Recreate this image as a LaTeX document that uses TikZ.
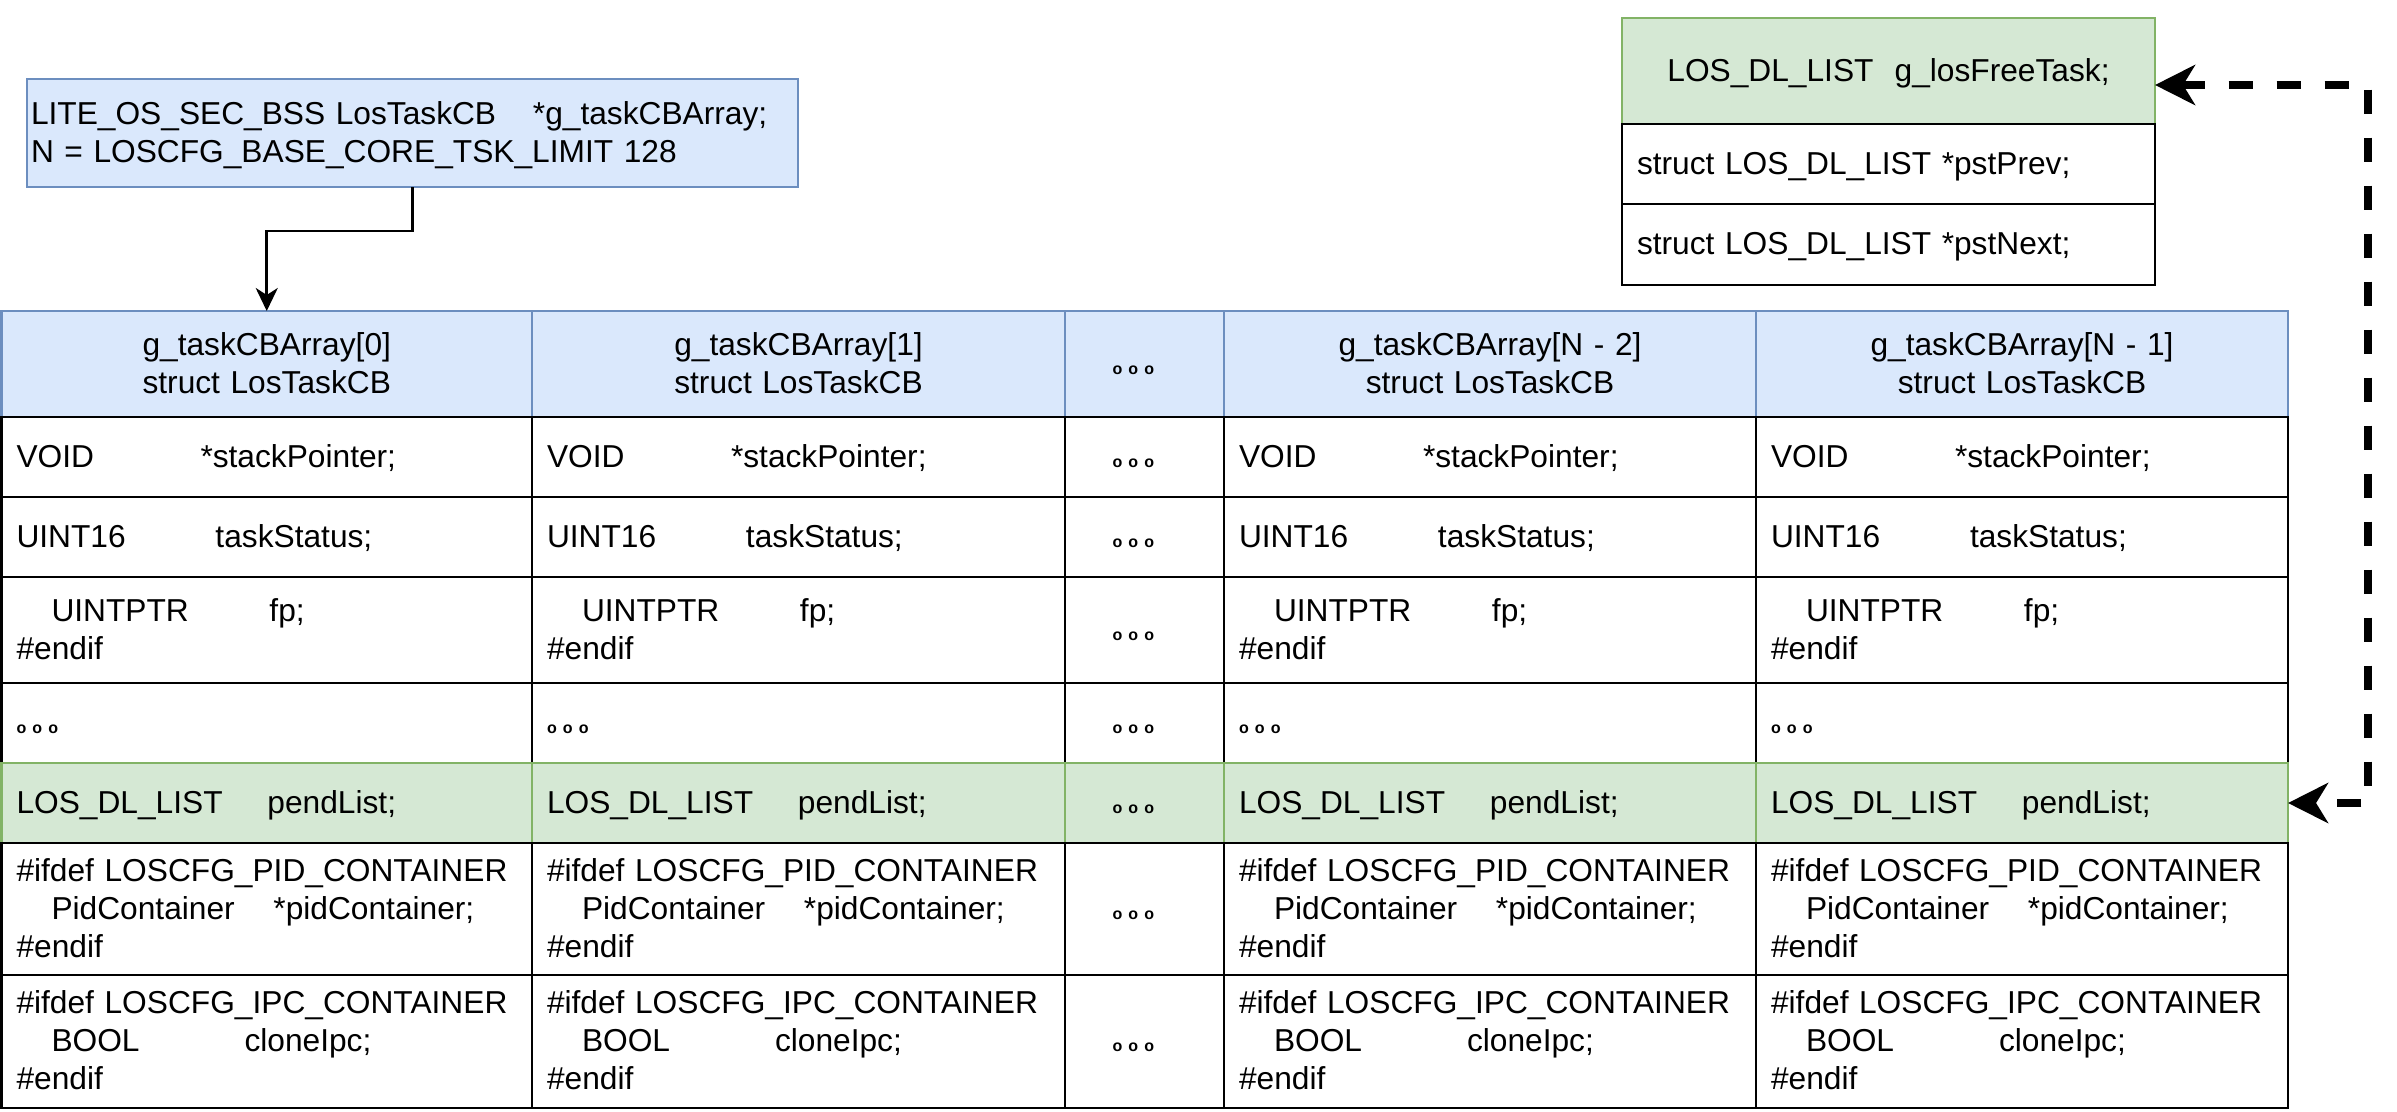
\documentclass[tikz,border=0pt]{standalone}
\usepackage{fontspec}
\setmainfont{Liberation Sans}
\usetikzlibrary{arrows.meta}
\definecolor{bfill}{HTML}{DAE8FC}
\definecolor{bline}{HTML}{6C8EBF}
\definecolor{gfill}{HTML}{D5E8D4}
\definecolor{gline}{HTML}{82B366}
\newcommand\st{\rule[-9pt]{0pt}{38pt}}
\newcommand\ooo{{\fontsize{16}{38}\selectfont\bfseries o\hspace{6.2pt}o\hspace{6.2pt}o}}
\newcommand\tb[2]{\makebox[#1][l]{#2}}
\tikzset{
  cellbox/.style={draw=black, fill=white, line width=2.6pt, rectangle, anchor=north west,
    inner xsep=15pt, inner ysep=0pt, outer sep=0pt, align=left,
    font=\fontsize{31.7}{38}\selectfont},
  bluecell/.style={cellbox, fill=bfill, draw=bline, align=center},
  greencell/.style={cellbox, fill=gfill, draw=gline},
  ptrarrow/.style={line width=2.6pt, -{Stealth[length=23pt,width=22pt,inset=7pt]}},
  listarrow/.style={line width=7.9pt, dash pattern=on 24pt off 24pt,
    {Stealth[length=40pt,width=40pt,inset=12pt]}-{Stealth[length=40pt,width=40pt,inset=12pt]}}
}
% #1 name prefix, #2 y, #3 height, #4 style, #5 content
\newcommand\cellrow[5]{%
  \foreach \xa/\xb/\cn in {1.5/532/a,532/1065/b,1224/1756/d,1756/2288/e}{
    \pgfmathsetmacro\tw{\xb-\xa-30}
    \node[#4, text width=\tw pt, minimum height=#3pt] (#1\cn) at (\xa,#2) {#5};
  }
  \node[#4, align=center, text width=129pt, minimum height=#3pt] (#1c) at (1065,#2) {\st\makebox[64pt][l]{\ooo}};
}
\begin{document}
\begin{tikzpicture}[x=1pt,y=-1pt]
\useasboundingbox (0,0) rectangle (2397,1111);

% global array declaration
\node[bluecell, align=left, inner xsep=4pt, text width=763pt, minimum height=108pt] (tl) at (27,79)
  {\st\tb{502pt}{LITE\_OS\_SEC\_BSS LosTaskCB}*g\_taskCBArray;\\\st N = LOSCFG\_BASE\_CORE\_TSK\_LIMIT 128};

% free task list
\node[greencell, align=center, text width=503pt, minimum height=106pt] (fr) at (1622,18)
  {\st LOS\_DL\_LIST\ \ g\_losFreeTask;};
\node[cellbox, text width=503pt, minimum height=80pt] (fpv) at (1622,124)
  {\st struct LOS\_DL\_LIST *pstPrev;};
\node[cellbox, text width=503pt, minimum height=81pt] (fnx) at (1622,204)
  {\st struct LOS\_DL\_LIST *pstNext;};

% header row
\foreach \xa/\xb/\cn/\lb in {1.5/532/a/0,532/1065/b/1,1224/1756/d/N - 2,1756/2288/e/N - 1}{
  \pgfmathsetmacro\tw{\xb-\xa-30}
  \node[bluecell, text width=\tw pt, minimum height=106pt] (h\cn) at (\xa,311)
    {\st g\_taskCBArray[\lb]\\\st struct LosTaskCB};
}
\node[bluecell, text width=129pt, minimum height=106pt] (hc) at (1065,311) {\st\makebox[64pt][l]{\ooo}};

\cellrow{ra}{417}{80}{cellbox}{\st\tb{184pt}{VOID}*stackPointer;}
\cellrow{rb}{497}{80}{cellbox}{\st\tb{199pt}{UINT16}taskStatus;}
\cellrow{rc}{577}{106}{cellbox}{\st\hspace*{35pt}\tb{218pt}{UINTPTR}fp;\\\st\#endif}
\cellrow{rd}{683}{80}{cellbox}{\st\ooo}
\cellrow{re}{763}{80}{greencell}{\st\tb{251pt}{LOS\_DL\_LIST}pendList;}
\cellrow{rf}{843}{132}{cellbox}{\st\#ifdef LOSCFG\_PID\_CONTAINER\\\st\hspace*{35pt}\tb{222pt}{PidContainer}*pidContainer;\\\st\#endif}
\cellrow{rg}{975}{133}{cellbox}{\st\#ifdef LOSCFG\_IPC\_CONTAINER\\\st\hspace*{35pt}\tb{193pt}{BOOL}cloneIpc;\\\st\#endif}

% connectors
\draw[ptrarrow] (tl.south) -- ++(0,44) -| (ha.north);
\coordinate (fa) at ([yshift=-67pt]fr.north east);
\draw[listarrow] (fa) -- ++(213,0) |- (ree.east);
\end{tikzpicture}
\end{document}
